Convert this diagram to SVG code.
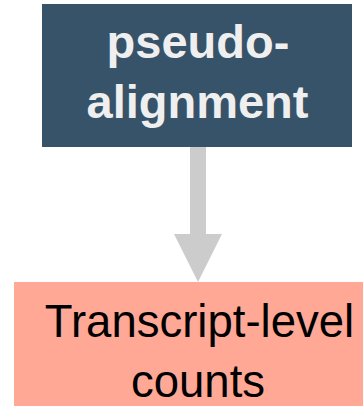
<svg xmlns="http://www.w3.org/2000/svg" width="363" height="406" viewBox="0 0 363 406">
<style>
.t1{font-family:"Liberation Sans",Arial,sans-serif;font-weight:bold;font-size:47px;fill:#EFEFEF;text-anchor:middle}
.t2{font-family:"Liberation Sans",Arial,sans-serif;font-size:45.5px;fill:#000000;text-anchor:middle}
</style>
<rect width="363" height="406" fill="#FFFFFF"/>
<g id="connectors">
<path d="M190,147 L206,147 L206,234 L222,234 L198,282 L174,234 L190,234 Z" fill="#CCCCCC"/>
</g>
<g id="node-pseudo">
<rect x="42" y="4" width="310" height="143" fill="#375369"/>
<text class="t1" x="198" y="57.5">pseudo-</text>
<text class="t1" x="197.5" y="117.5">alignment</text>
</g>
<g id="node-counts">
<rect x="14" y="282" width="349" height="124" fill="#FFA896"/>
<text class="t2" x="199.5" y="336.7">Transcript-level</text>
<text class="t2" x="198" y="396.7">counts</text>
</g>
</svg>
